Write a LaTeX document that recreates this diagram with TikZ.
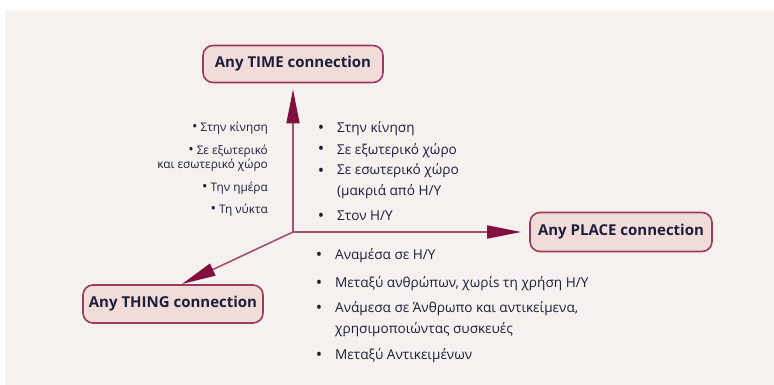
\documentclass[tikz,border=0pt]{standalone}
\usepackage{fontspec}
\setmainfont{Open Sans}
\usetikzlibrary{arrows.meta}
\definecolor{paper}{HTML}{F5F1EE}
\definecolor{boxfill}{HTML}{F0DDD9}
\definecolor{boxdraw}{HTML}{9C3A60}
\definecolor{shaft}{HTML}{A4506F}
\definecolor{head}{HTML}{82103F}
\definecolor{ink}{HTML}{1E1E3C}
% slightly heavier bullet for the short left-hand list
\newcommand\leftbullet{{\fontsize{14.5}{13}\selectfont •}}
\begin{document}
\begin{tikzpicture}[x=1pt,y=-1pt,
  concept/.style={draw=boxdraw, line width=1.6pt, fill=boxfill, rounded corners=10pt,
    minimum width=180pt, minimum height=37pt, inner sep=2pt,
    font=\bfseries\fontsize{15}{17}\selectfont, text=ink},
  axis/.style={draw=shaft, line width=1.6pt, -{Triangle[length=34pt,width=13pt,color=head]}},
  item/.style={inner sep=0pt, font=\fontsize{13.6}{16}\selectfont, text=ink},
  small/.style={inner sep=0pt, font=\fontsize{11.8}{13}\selectfont, text=ink},
  dot/.style={inner sep=0pt, anchor=base, font=\fontsize{17}{17}\selectfont, text=ink},
  lefttext/.style={small, anchor=base east},
  righttext/.style={item, anchor=base west},
]
\useasboundingbox (0,0) rectangle (774,385);
\fill[white] (0,0) rectangle (774,385);
\fill[paper] (5,11) rectangle (774,385);

% the three concepts
\node[concept] (time)  at (293,64)  {Any TIME connection};
\node[concept, minimum width=182pt, minimum height=39pt] (place) at (621,232) {Any PLACE connection};
\node[concept, minimum height=38pt] (thing) at (173,304) {Any THING connection};

% axes from the common origin
\coordinate (o) at (293,232);
\coordinate (thingtip) at (182,284);
\draw[axis, shorten >=6pt] (o) -- (time.south);
\draw[axis, shorten >=8pt] (o) -- (place.west);
\draw[axis] (o) -- (thingtip);

% time list (left of the vertical axis)
\node[lefttext] (t1) at (268,132) {\leftbullet\ Στην κίνηση};
\node[lefttext] (t2) at (268,155) {\leftbullet\ Σε εξωτερικό};
\node[lefttext] (t3) at (268,168) {και εσωτερικό χώρο};
\node[lefttext] (t4) at (268,191) {\leftbullet\ Την ημέρα};
\node[lefttext] (t5) at (268,213) {\leftbullet\ Τη νύκτα};

% place list (right of the vertical axis)
\node[dot] (pb1) at (321,134) {•};
\node[righttext] (p1) at (337,133) {Στην κίνηση};
\node[dot] (pb2) at (321,155) {•};
\node[righttext] (p2) at (337,154) {Σε εξωτερικό χώρο};
\node[dot] (pb3) at (321,176) {•};
\node[righttext] (p3) at (337,175) {Σε εσωτερικό χώρο};
\node[righttext] (p3b) at (337,196) {(μακριά από H/Y};
\node[dot] (pb4) at (321,221) {•};
\node[righttext] (p4) at (337,220) {Στον H/Y};

% thing list (below the horizontal axis)
\node[dot] (hb1) at (319,260) {•};
\node[righttext] (h1) at (335,259) {Αναμέσα σε H/Y};
\node[dot] (hb2) at (319,288) {•};
\node[righttext] (h2) at (335,287) {Μεταξύ ανθρώπων, χωρίs τη χρήση H/Y};
\node[dot] (hb3) at (319,313) {•};
\node[righttext] (h3) at (335,312) {Ανάμεσα σε Άνθρωπο και αντικείμενα,};
\node[righttext] (h3b) at (335,333) {χρησιμοποιώντας συσκευές};
\node[dot] (hb4) at (319,360) {•};
\node[righttext] (h4) at (335,359) {Μεταξύ Αντικειμένων};
\end{tikzpicture}
\end{document}
